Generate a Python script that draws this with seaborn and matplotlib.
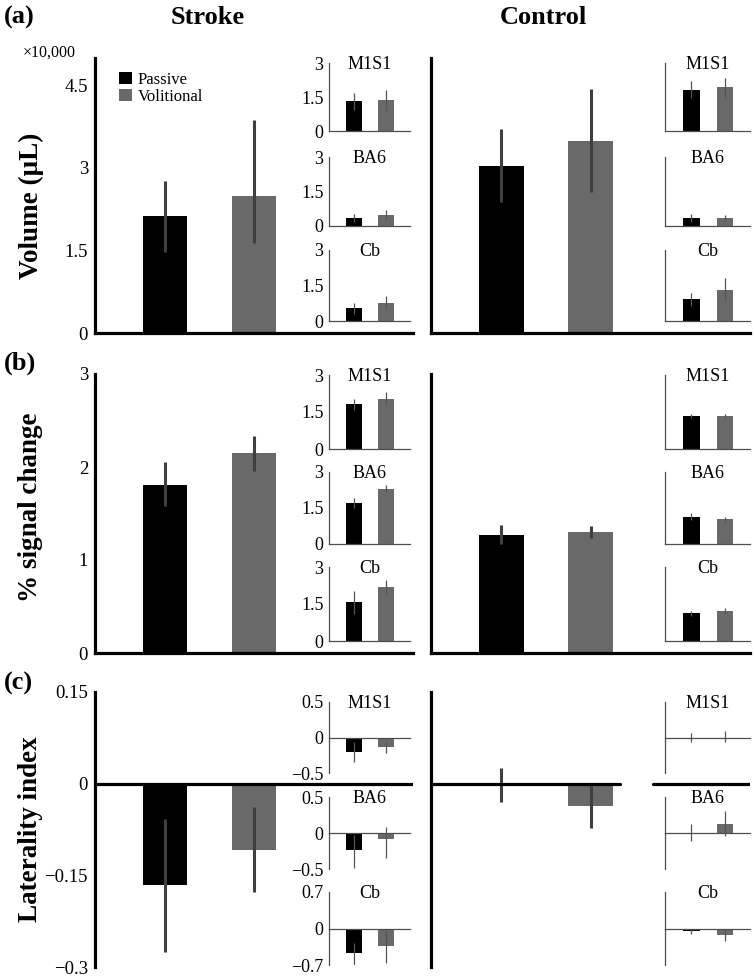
import matplotlib
matplotlib.use("Agg")
import matplotlib.pyplot as plt
from matplotlib.patches import Patch
import seaborn as sns
import pandas as pd

W, H = 755, 977

groups = ["Passive", "Volitional"]
bar_colors = ["#000000", "#696969"]
regions = ["M1S1", "BA6", "Cb"]

# every list: [whole, M1S1, BA6, Cb], each entry [passive, volitional]
# (a) activated volume (x10,000 uL)
vol_stroke_mean = [[2.12, 2.49], [1.32, 1.37], [0.35, 0.48], [0.53, 0.77]]
vol_stroke_lo = [[1.47, 1.63], [0.92, 0.88], [0.17, 0.26], [0.28, 0.46]]
vol_stroke_hi = [[2.76, 3.88], [1.69, 1.81], [0.51, 0.70], [0.77, 1.05]]
vol_control_mean = [[3.04, 3.49], [1.82, 1.94], [0.35, 0.34], [0.94, 1.33]]
vol_control_lo = [[2.38, 2.56], [1.45, 1.52], [0.17, 0.17], [0.62, 0.85]]
vol_control_hi = [[3.71, 4.44], [2.19, 2.34], [0.52, 0.50], [1.19, 1.81]]

# (b) % signal change
psc_stroke_mean = [[1.81, 2.15], [1.81, 2.03], [1.69, 2.31], [1.60, 2.17]]
psc_stroke_lo = [[1.58, 1.96], [1.58, 1.76], [1.49, 2.17], [1.09, 1.87]]
psc_stroke_hi = [[2.05, 2.33], [2.01, 2.32], [1.90, 2.45], [2.01, 2.49]]
psc_control_mean = [[1.27, 1.30], [1.32, 1.34], [1.14, 1.03], [1.12, 1.22]]
psc_control_lo = [[1.17, 1.24], [1.24, 1.25], [0.98, 0.93], [1.01, 1.09]]
psc_control_hi = [[1.38, 1.37], [1.43, 1.43], [1.28, 1.14], [1.23, 1.33]]

# (c) laterality index
li_stroke_mean = [[-0.165, -0.108], [-0.21, -0.14], [-0.24, -0.08], [-0.47, -0.33]]
li_stroke_lo = [[-0.275, -0.177], [-0.35, -0.22], [-0.48, -0.35], [-0.80, -0.66]]
li_stroke_hi = [[-0.057, -0.038], [-0.07, -0.06], [-0.03, 0.09], [-0.27, -0.02]]
li_control_mean = [[-0.003, -0.036], [-0.01, -0.005], [0.0, 0.12], [-0.05, -0.13]]
li_control_lo = [[-0.030, -0.073], [-0.07, -0.07], [-0.11, -0.04], [-0.10, -0.24]]
li_control_hi = [[0.025, 0.001], [0.07, 0.09], [0.12, 0.30], [0.0, 0.0]]

sns.set_style("white")
plt.rcParams["font.family"] = ["Liberation Serif", "DejaVu Serif"]
plt.rcParams["text.color"] = "black"
plt.rcParams["xtick.color"] = "black"
plt.rcParams["ytick.color"] = "black"

fig = plt.figure(figsize=(W / 100, H / 100), dpi=100)


def px_axes(x0, x1, y0, y1):
    return fig.add_axes([x0 / W, 1 - y1 / H, (x1 - x0) / W, (y1 - y0) / H])


def bars(ax, mean, lo, hi, elw, ecolor):
    df = pd.DataFrame({"condition": groups, "value": mean})
    sns.barplot(data=df, x="condition", y="value", hue="condition",
                order=groups, hue_order=groups, palette=bar_colors,
                saturation=1, width=0.5, errorbar=None, linewidth=0,
                legend=False, ax=ax)
    ax.vlines([0, 1], lo, hi, colors=ecolor, linewidth=elw, zorder=4)
    ax.set_xlabel("")
    ax.set_ylabel("")
    ax.set_xticks([])


def style_main(ax, ylim, ticks, labels, show_labels, laterality):
    ax.set_xlim(-0.79, 2.79)
    ax.set_ylim(*ylim)
    ax.set_yticks(ticks)
    ax.set_yticklabels(labels if show_labels else [])
    ax.patch.set_alpha(0)
    for s in ["top", "right"]:
        ax.spines[s].set_visible(False)
    ax.spines["left"].set_linewidth(2.3)
    ax.spines["left"].set_color("black")
    ax.spines["bottom"].set_linewidth(2.3)
    ax.spines["bottom"].set_color("black")
    if laterality:
        ax.spines["bottom"].set_visible(False)
    ax.tick_params(axis="y", direction="in", length=6, width=2.3,
                   labelsize=13.5, pad=5)


def style_inset(ax, ylim, ticks, labels, show_labels, laterality, name):
    ax.set_xlim(-0.79, 1.75)
    ax.set_ylim(*ylim)
    ax.patch.set_alpha(0)
    for s in ["top", "right"]:
        ax.spines[s].set_visible(False)
    for s in ["left", "bottom"]:
        ax.spines[s].set_color("#4d4d4d")
        ax.spines[s].set_linewidth(0.9)
    if laterality:
        ax.spines["bottom"].set_position(("data", 0))
    ax.set_yticks(ticks)
    ax.set_yticklabels(labels if show_labels else [])
    ax.tick_params(axis="y", direction="in", length=3.5, width=0.9,
                   color="#4d4d4d", labelsize=13, pad=4)
    ax.text(0.5, 0.98, name, transform=ax.transAxes, ha="center",
            va="center", fontsize=13)


rows = [
    dict(main=(58, 333), ylim=(0, 5.0), ticks=[0, 1.5, 3, 4.5],
         labels=["0", "1.5", "3", "4.5"],
         insets=[(63, 131), (157, 226), (250, 321)],
         in_ylim=[(0, 3), (0, 3), (0, 3)], in_ticks=[[0, 1.5, 3]] * 3,
         in_labels=[["0", "1.5", "3"]] * 3, lat=False,
         stroke=(vol_stroke_mean, vol_stroke_lo, vol_stroke_hi),
         control=(vol_control_mean, vol_control_lo, vol_control_hi)),
    dict(main=(374, 653), ylim=(0, 3), ticks=[0, 1, 2, 3],
         labels=["0", "1", "2", "3"],
         insets=[(375, 449), (472, 544), (567, 641)],
         in_ylim=[(0, 3), (0, 3), (0, 3)], in_ticks=[[0, 1.5, 3]] * 3,
         in_labels=[["0", "1.5", "3"]] * 3, lat=False,
         stroke=(psc_stroke_mean, psc_stroke_lo, psc_stroke_hi),
         control=(psc_control_mean, psc_control_lo, psc_control_hi)),
    dict(main=(692, 967), ylim=(-0.3, 0.15), ticks=[-0.3, -0.15, 0, 0.15],
         labels=["\u22120.3", "\u22120.15", "0", "0.15"],
         insets=[(702, 773), (797, 869), (892, 965)],
         in_ylim=[(-0.5, 0.5), (-0.5, 0.5), (-0.7, 0.7)],
         in_ticks=[[-0.5, 0, 0.5], [-0.5, 0, 0.5], [-0.7, 0, 0.7]],
         in_labels=[["\u22120.5", "0", "0.5"], ["\u22120.5", "0", "0.5"],
                    ["\u22120.7", "0", "0.7"]], lat=True,
         stroke=(li_stroke_mean, li_stroke_lo, li_stroke_hi),
         control=(li_control_mean, li_control_lo, li_control_hi)),
]

columns = [("stroke", (95, 413), (329, 410)), ("control", (431, 750), (665, 750))]

for r, row in enumerate(rows):
    for key, (mx0, mx1), (ix0, ix1) in columns:
        mean, lo, hi = row[key]
        is_stroke = key == "stroke"
        ax = px_axes(mx0, mx1, *row["main"])
        bars(ax, mean[0], lo[0], hi[0], 2.2, "#3f3f3f")
        style_main(ax, row["ylim"], row["ticks"], row["labels"], is_stroke, row["lat"])
        if row["lat"]:
            if is_stroke:
                ax.axhline(0, 0, 1, color="black", lw=2.3, zorder=5)
            else:
                ax.axhline(0, 0, 0.592, color="black", lw=2.3, zorder=5)
                ax.axhline(0, 0.696, 1, color="black", lw=2.3, zorder=5)
        if r == 0 and is_stroke:
            handles = [Patch(facecolor=c, edgecolor="none") for c in bar_colors]
            ax.legend(handles, groups, loc="upper left",
                      bbox_to_anchor=(119 / W, 1 - 72 / H),
                      bbox_transform=fig.transFigure, frameon=False,
                      fontsize=12, handlelength=0.75, handleheight=0.75,
                      handletextpad=0.35, labelspacing=0.05, borderpad=0,
                      borderaxespad=0)
        for k, (iy0, iy1) in enumerate(row["insets"]):
            iax = px_axes(ix0, ix1, iy0, iy1)
            bars(iax, mean[k + 1], lo[k + 1], hi[k + 1], 0.9, "#555555")
            style_inset(iax, row["in_ylim"][k], row["in_ticks"][k],
                        row["in_labels"][k], is_stroke, row["lat"], regions[k])

# headings and axis titles
fig.text(208 / W, 1 - 17 / H, "Stroke", ha="center", va="center",
         fontsize=19, fontweight="bold")
fig.text(543 / W, 1 - 17 / H, "Control", ha="center", va="center",
         fontsize=19, fontweight="bold")
for lab, y in [("(a)", 17), ("(b)", 363), ("(c)", 683)]:
    fig.text(4 / W, 1 - y / H, lab, ha="left", va="center",
             fontsize=19, fontweight="bold")
fig.text(23 / W, 1 - 53 / H, "\u00d710,000", ha="left", va="center", fontsize=11.5)
for lab, y in [("Volume (\u03bcL)", 206), ("% signal change", 507),
               ("Laterality index", 829)]:
    fig.text(31 / W, 1 - y / H, lab, rotation=90, ha="center", va="center",
             fontsize=19.5, fontweight="bold")

fig.savefig("out.png", dpi=100)
plt.close(fig)
